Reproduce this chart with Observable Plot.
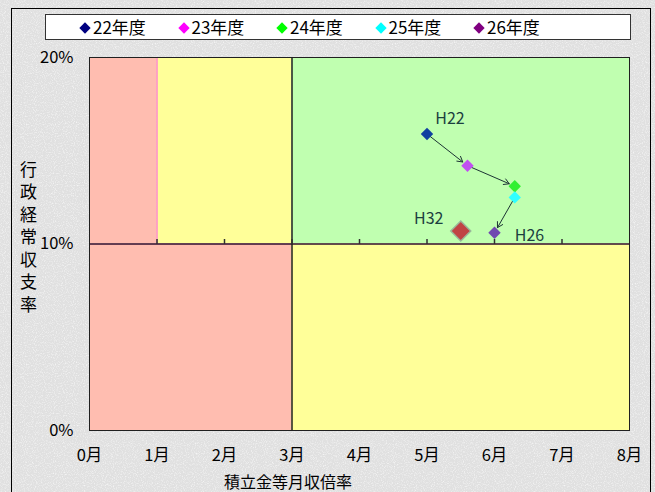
<!DOCTYPE html>
<html><head><meta charset="utf-8">
<script src="https://cdn.jsdelivr.net/npm/d3@7"></script>
<script src="https://cdn.jsdelivr.net/npm/@observablehq/plot@0.6"></script>
<style>
html,body{margin:0;padding:0;}
body{width:655px;height:492px;overflow:hidden;font-family:"Noto Sans CJK JP","Noto Sans",sans-serif;
background-color:#e0e0e0;
background-image:url("data:image/svg+xml;utf8,<svg xmlns='http://www.w3.org/2000/svg' width='240' height='240'><filter id='n'><feTurbulence type='fractalNoise' baseFrequency='0.9' numOctaves='2' seed='3'/><feColorMatrix values='0 0 0 0 1  0 0 0 0 1  0 0 0 0 1  0 0 0 1.6 -0.75'/></filter><rect width='100%' height='100%' filter='url(%23n)'/></svg>");}
#wrap{position:relative;width:655px;height:492px;}
#frame{position:absolute;left:11px;top:8px;width:640px;height:500px;border:1px solid #000;box-sizing:border-box;}
#chart{position:absolute;left:0;top:0;}
#legend{position:absolute;left:45px;top:14px;width:586px;height:26px;background:#fff;border:1.5px solid #333;box-sizing:border-box;}
.li{position:absolute;top:0px;font-size:17px;line-height:23px;color:#000;white-space:nowrap;}
.li span.d{display:inline-block;width:8px;height:8px;transform:rotate(45deg);margin-right:4px;vertical-align:2px;}
#ylab{position:absolute;left:18px;top:161px;writing-mode:vertical-rl;text-orientation:upright;font-size:17px;line-height:20px;letter-spacing:5.5px;color:#000;}
#xlab{position:absolute;left:208px;top:471px;width:160px;text-align:center;font-size:16px;line-height:20px;color:#000;}
</style></head>
<body>
<div id="wrap">
<div id="frame"></div>
<div id="chart"></div>
<div id="legend"></div>
<div id="ylab"></div>
<div id="xlab"></div>
</div>
<script>
// ---- data ----
const years = ["22年度", "23年度", "24年度", "25年度", "26年度"];
const legendColors = ["#000080", "#FF00FF", "#00FF00", "#00FFFF", "#800080"];
const pointColors = ["#1040A0", "#C050F0", "#30F030", "#30FFFF", "#7048B0"];
const monthsX = [5.0, 5.6, 6.3, 6.3, 6.0];      // 積立金等月収倍率 (months)
const ratioY = [15.9, 14.2, 13.1, 12.5, 10.6];  // 行政経常収支率 (%)
const targetLabel = "H32";
const targetX = 5.5;
const targetY = 10.7;
const xTicks = [0, 1, 2, 3, 4, 5, 6, 7, 8];
const yTicks = [0, 10, 20];
const zoneX1 = [0, 1, 3, 0, 3];
const zoneX2 = [1, 3, 8, 3, 8];
const zoneY1 = [10, 10, 10, 0, 0];
const zoneY2 = [20, 20, 20, 10, 10];
const zoneFill = ["#FFBDB0", "#FFFF99", "#C0FFB0", "#FFBDB0", "#FFFF99"];
const yTitle = "行政経常収支率";
const xTitle = "積立金等月収倍率";

// ---- build ----
const zones = zoneX1.map((x1, i) => ({x1, x2: zoneX2[i], y1: zoneY1[i], y2: zoneY2[i], fill: zoneFill[i]}));
const pts = years.map((y, i) => ({year: y, x: monthsX[i], y: ratioY[i], color: pointColors[i]}));
const arrows = d3.pairs(pts).map(([a, b]) => ({x1: a.x, y1: a.y, x2: b.x, y2: b.y}));
const tickSym = {draw(ctx, size) { ctx.moveTo(0, 0); ctx.lineTo(0, -5); }};

const font = '"Noto Sans CJK JP","Noto Sans",sans-serif';
const chart = Plot.plot({
  width: 655, height: 492,
  marginLeft: 89, marginRight: 26, marginTop: 57, marginBottom: 62,
  style: {fontFamily: font, fontSize: "16.5px", color: "#000", background: "transparent", overflow: "visible"},
  x: {domain: [0, 8], ticks: xTicks, tickFormat: d => d + "月", tickSize: 0, tickPadding: 19, label: null},
  y: {domain: [0, 20], ticks: yTicks, tickFormat: d => d + "%", tickSize: 0, tickPadding: 16, label: null},
  marks: [
    Plot.rect(zones, {x1: "x1", x2: "x2", y1: "y1", y2: "y2", fill: "fill"}),
    Plot.ruleX([1], {y1: 10, y2: 20, stroke: "#FF88CC", strokeWidth: 1.5}),
    Plot.ruleY([10], {stroke: "#301030", strokeWidth: 1.5}),
    Plot.ruleX([3], {stroke: "#202020", strokeWidth: 1.5}),
    Plot.dot(xTicks.slice(1, -1), {x: d => d, y: yTicks[1], symbol: tickSym, stroke: "#303030", strokeWidth: 1.5}),
    Plot.frame({stroke: "#202020", strokeWidth: 1}),
    Plot.arrow(arrows, {x1: "x1", y1: "y1", x2: "x2", y2: "y2", stroke: "#1c3434", strokeWidth: 1, headLength: 9, insetEnd: 6}),
    Plot.dot([{x: targetX, y: targetY}], {x: "x", y: "y", symbol: "diamond2", r: 9, fill: "#C04444", stroke: "#9ab89a", strokeWidth: 1.5}),
    Plot.dot(pts, {x: "x", y: "y", symbol: "diamond2", r: 5.6, fill: "color"}),
    Plot.text([pts[0]], {x: "x", y: "y", text: () => "H22", dx: 23, dy: -15, fill: "#1c4040", fontSize: 16}),
    Plot.text([pts[4]], {x: "x", y: "y", text: () => "H26", dx: 35, dy: 3, fill: "#1c4040", fontSize: 16}),
    Plot.text([{x: targetX, y: targetY}], {x: "x", y: "y", text: () => targetLabel, dx: -32, dy: -12, fill: "#1c4040", fontSize: 16})
  ]
});
document.getElementById("chart").appendChild(chart);

// legend
const lg = document.getElementById("legend");
years.forEach((y, i) => {
  const el = document.createElement("div");
  el.className = "li";
  el.style.left = (35 + i * 98.5) + "px";
  el.innerHTML = `<span class="d" style="background:${legendColors[i]}"></span>${y}`;
  lg.appendChild(el);
});
document.getElementById("ylab").textContent = yTitle;
document.getElementById("xlab").textContent = xTitle;
</script>
</body></html>
